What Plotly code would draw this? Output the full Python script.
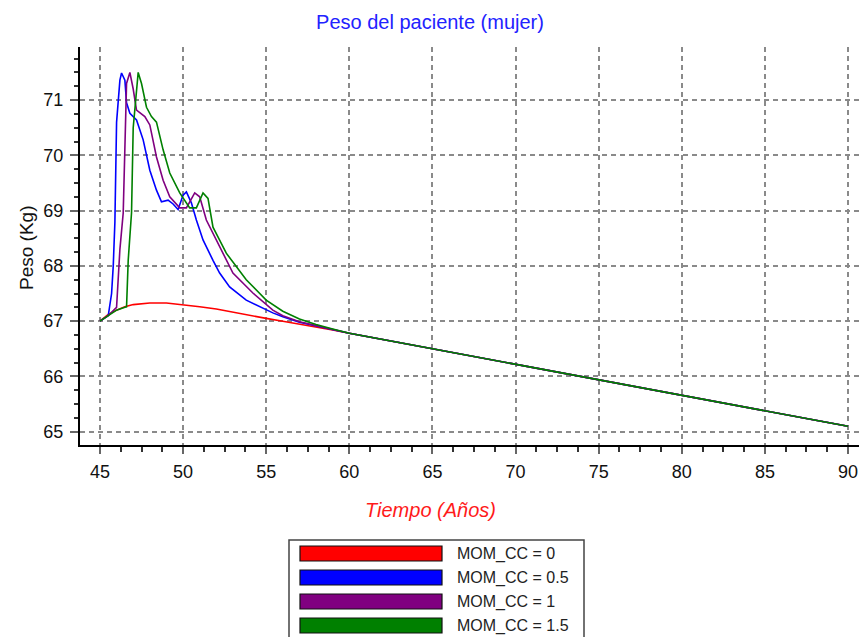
import plotly.graph_objects as go

# Simulated body weight (kg) versus age (years) for four MOM_CC settings
labels = ["MOM_CC = 0", "MOM_CC = 0.5", "MOM_CC = 1", "MOM_CC = 1.5"]
colors = ["#FF0000", "#0000FF", "#800080", "#008000"]

# Common slow decline after age 60
tail_age = [60, 65, 70, 75, 80, 85, 90]
tail_peso = [66.78, 66.50, 66.22, 65.94, 65.66, 65.38, 65.10]

age_0 = [45, 45.5, 46, 46.5, 47, 48, 49, 50, 51, 52, 53, 54, 55, 56, 57, 58, 59]
peso_0 = [67.0, 67.12, 67.2, 67.26, 67.3, 67.33, 67.33, 67.3, 67.26, 67.22, 67.16,
          67.1, 67.05, 67.0, 66.95, 66.9, 66.84]

age_05 = [45, 45.5, 45.7, 45.8, 45.9, 46.0, 46.2, 46.3, 46.5, 46.6, 46.8, 47.2, 47.6,
          48.0, 48.4, 48.7, 49.1, 49.4, 49.7, 50.0, 50.2, 50.5, 50.8, 51.2, 51.8,
          52.2, 52.8, 53.8, 55.4, 56, 57, 58, 59]
peso_05 = [67.0, 67.1, 67.5, 68.0, 68.8, 70.6, 71.36, 71.49, 71.36, 70.95, 70.76,
           70.64, 70.28, 69.73, 69.37, 69.16, 69.19, 69.12, 69.02, 69.28, 69.34,
           69.14, 68.83, 68.47, 68.1, 67.87, 67.62, 67.38, 67.15, 67.08, 66.98,
           66.91, 66.85]

age_1 = [45, 45.5, 46.0, 46.1, 46.2, 46.4, 46.6, 46.8, 47.0, 47.2, 47.7, 48.0, 48.4,
         48.8, 49.2, 49.8, 50.2, 50.7, 51.0, 51.4, 52.2, 53.0, 54.2, 55.4, 56, 57,
         58, 59]
peso_1 = [67.0, 67.1, 67.25, 67.7, 68.3, 68.96, 71.3, 71.5, 71.2, 70.82, 70.7,
          70.55, 69.97, 69.55, 69.25, 69.05, 69.05, 69.32, 69.25, 68.83, 68.34,
          67.87, 67.51, 67.2, 67.1, 66.99, 66.92, 66.85]

age_15 = [45, 45.5, 46.0, 46.5, 46.6, 46.7, 46.9, 47.0, 47.3, 47.5, 47.8, 48.1,
          48.4, 48.8, 49.2, 49.8, 50.4, 50.8, 51.2, 51.5, 51.8, 52.6, 53.8, 55.0,
          56, 57, 58, 59]
peso_15 = [67.0, 67.1, 67.2, 67.25, 67.26, 68.1, 68.96, 70.5, 71.5, 71.3, 70.87,
           70.7, 70.6, 70.1, 69.68, 69.32, 69.05, 69.05, 69.32, 69.22, 68.7, 68.23,
           67.75, 67.38, 67.18, 67.04, 66.94, 66.86]

series_age = [age_0, age_05, age_1, age_15]
series_peso = [peso_0, peso_05, peso_1, peso_15]

x_ticks = [45, 50, 55, 60, 65, 70, 75, 80, 85, 90]
y_ticks = [65, 66, 67, 68, 69, 70, 71]

fig = go.Figure()
for name, color, ages, pesos in zip(labels, colors, series_age, series_peso):
    fig.add_trace(go.Scatter(
        x=ages + tail_age, y=pesos + tail_peso, mode="lines", name=name,
        line=dict(color=color, width=1.6), showlegend=False,
    ))

# Plot-area geometry in pixels (used to place the hand-drawn legend box)
W, H = 859, 637
L, R, T, B = 80, 0, 47, 192
pw, ph = W - L - R, H - T - B


def px(xpix):
    return (xpix - L) / pw


def py(ypix):
    return (H - B - ypix) / ph


FONT = "Liberation Sans, Arial"
grid = dict(gridcolor="#8a8a8a", gridwidth=1.5, griddash="5px,4px")
tickfont = dict(family=FONT, size=18, color="#111111")

fig.update_xaxes(
    range=[43.8, 90.66], tickvals=x_ticks, ticktext=[str(v) for v in x_ticks],
    showline=True, linecolor="black", linewidth=2, mirror=False,
    ticks="outside", ticklen=7, tickcolor="#666666", tickwidth=1.5,
    tickfont=tickfont, ticklabelstandoff=2, zeroline=False, showgrid=True, **grid,
    minor=dict(tick0=45, dtick=1.25, ticks="outside", ticklen=5,
               tickcolor="#333333", tickwidth=1.5, showgrid=False),
)
fig.update_yaxes(
    range=[64.76, 71.96], tickvals=y_ticks, ticktext=[str(v) for v in y_ticks],
    showline=True, linecolor="black", linewidth=2, mirror=False,
    ticks="outside", ticklen=8, tickcolor="#666666", tickwidth=1.5,
    tickfont=tickfont, ticklabelstandoff=3, zeroline=False, showgrid=True, **grid,
    minor=dict(tick0=65, dtick=0.25, ticks="outside", ticklen=4,
               tickcolor="#333333", tickwidth=1.5, showgrid=False),
)

annotations = [
    dict(text="Tiempo (Años)", x=px(430), y=py(510), xref="paper", yref="paper",
         showarrow=False, xanchor="center", yanchor="middle",
         font=dict(family=FONT, size=20, color="#FF1A1A", style="italic")),
    dict(text="Peso (Kg)", x=px(26), y=py(248), xref="paper", yref="paper",
         showarrow=False, textangle=-90, xanchor="center", yanchor="middle",
         font=dict(family=FONT, size=19, color="#111111")),
]

shapes = [
    dict(type="rect", xref="paper", yref="paper", x0=px(289), x1=px(584),
         y0=py(650), y1=py(540), line=dict(color="#444444", width=1.5),
         fillcolor="white", layer="above"),
]
row_top = [546, 570, 594, 618]
for name, color, top in zip(labels, colors, row_top):
    shapes.append(dict(type="rect", xref="paper", yref="paper",
                       x0=px(300), x1=px(442), y0=py(top + 15), y1=py(top),
                       line=dict(color="#111111", width=1.2), fillcolor=color,
                       layer="above"))
    annotations.append(dict(text=name, x=px(455), y=py(top + 7.5), xref="paper",
                            yref="paper", showarrow=False, xanchor="left",
                            yanchor="middle",
                            font=dict(family=FONT, size=16, color="#222222")))

fig.update_layout(
    width=W, height=H,
    margin=dict(l=L, r=R, t=T, b=B, pad=0),
    paper_bgcolor="white", plot_bgcolor="white",
    title=dict(text="Peso del paciente (mujer)", x=430 / W, y=1 - 22 / H,
               xref="container", yref="container", xanchor="center",
               yanchor="middle",
               font=dict(family=FONT, size=20, color="#2222FF")),
    annotations=annotations, shapes=shapes, showlegend=False,
)

fig.write_html("out.html")
